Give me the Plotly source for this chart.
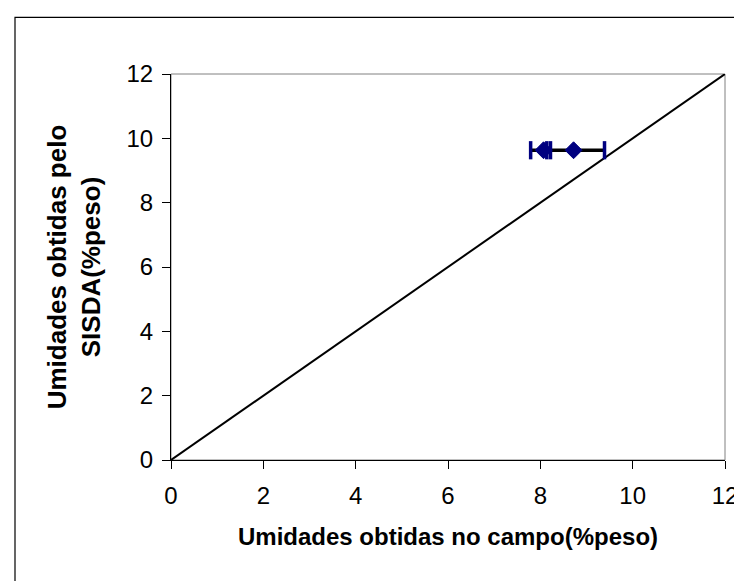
import plotly.graph_objects as go

# Data
campo = [8.07, 8.72]          # x: Umidades obtidas no campo
sisda = [9.63, 9.63]          # y: Umidades obtidas pelo SISDA
err_minus = [0.28, 0.58]
err_plus = [0.15, 0.67]
line_xy = [0, 12]             # 1:1 reference line
tick_vals = [0, 2, 4, 6, 8, 10, 12]

navy = "#000080"
fig = go.Figure()

# 1:1 line
fig.add_trace(go.Scatter(x=line_xy, y=line_xy, mode="lines",
                         line=dict(color="black", width=2), showlegend=False,
                         hoverinfo="skip"))

# thick black error stem spanning the range
lo = min(c - m for c, m in zip(campo, err_minus))
hi = max(c + p for c, p in zip(campo, err_plus))
fig.add_trace(go.Scatter(x=[lo, hi], y=[sisda[0], sisda[0]], mode="lines",
                         line=dict(color="black", width=3.5), showlegend=False))

# caps (navy)
cap_x = [c - m for c, m in zip(campo, err_minus)] + [c + p for c, p in zip(campo, err_plus)]
cap_y = sisda + sisda
fig.add_trace(go.Scatter(x=cap_x, y=cap_y, mode="markers",
                         marker=dict(symbol="line-ns", size=13,
                                     line=dict(color=navy, width=3.5)),
                         showlegend=False))

# diamonds
fig.add_trace(go.Scatter(x=campo, y=sisda, mode="markers",
                         marker=dict(symbol="diamond", size=13, color=navy,
                                     line=dict(color=navy, width=1)),
                         showlegend=False))

font_main = "Liberation Sans, Arial, sans-serif"

fig.update_layout(
    width=742, height=581,
    margin=dict(l=163, r=25, t=66, b=129),
    paper_bgcolor="white", plot_bgcolor="white",
    font=dict(family=font_main, color="black", size=24),
    xaxis=dict(range=[0, 12], tickvals=tick_vals, ticks="outside", ticklen=8,
               tickcolor="black", showline=True, linecolor="black", linewidth=1.2,
               showgrid=False, zeroline=False, tickfont=dict(size=24),
               ticklabelstandoff=6,
               title=dict(text="<b>Umidades obtidas no campo(%peso)</b>",
                          font=dict(size=24), standoff=20)),
    yaxis=dict(range=[0, 12], tickvals=tick_vals, ticks="outside", ticklen=8,
               tickcolor="black", showline=True, linecolor="black", linewidth=1.2,
               showgrid=False, zeroline=False, tickfont=dict(size=24),
               ticklabelstandoff=4,
               title=dict(text="<b>Umidades obtidas pelo<br>SISDA(%peso)</b>",
                          font=dict(size=26), standoff=18)),
    shapes=[
        dict(type="rect", xref="paper", yref="paper", x0=0, x1=1, y0=0, y1=1,
             line=dict(color="#808080", width=1), layer="below"),
        dict(type="rect", xref="paper", yref="paper",
             x0=(7 - 163) / 554, x1=1.2, y0=-0.6, y1=(451.7 - 9) / 386,
             line=dict(color="black", width=1.2), layer="below"),
    ],
)

fig.write_html("out.html")
